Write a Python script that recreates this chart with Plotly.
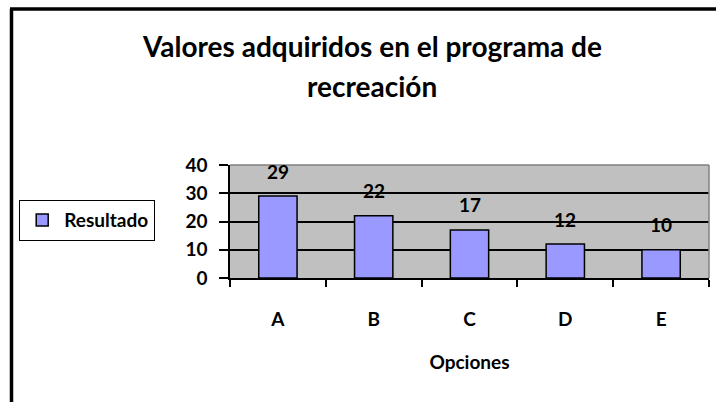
import plotly.graph_objects as go

# data
opciones = ["A", "B", "C", "D", "E"]
resultado = [29, 22, 17, 12, 10]
y_ticks = [0, 10, 20, 30, 40]

W, H = 716, 402
# plot area in pixels
L, R, T, B = 230, 709, 165, 278
pw, ph = R - L, B - T


def px_x(x):
    return (x - L) / pw


def px_y(y):
    return (B - y) / ph


FONT = "Lato"
bold19 = dict(family=FONT, size=19, color="black", weight="bold")

fig = go.Figure()
fig.add_trace(
    go.Bar(
        x=opciones,
        y=resultado,
        name="Resultado",
        marker=dict(color="#9999FF", line=dict(color="black", width=1.5)),
        width=0.4,
    )
)

# data labels above each bar
for cat, val in zip(opciones, resultado):
    fig.add_annotation(
        x=cat, y=val, text=str(val), showarrow=False,
        yanchor="middle", yshift=25, font=bold19,
    )

# title, two lines
title_font = dict(family=FONT, size=28, color="black", weight="bold")
fig.add_annotation(
    xref="paper", yref="paper", x=px_x(372), y=px_y(46),
    text="Valores adquiridos en el programa de", showarrow=False,
    xanchor="center", yanchor="middle", font=title_font,
)
fig.add_annotation(
    xref="paper", yref="paper", x=px_x(372), y=px_y(86),
    text="recreación", showarrow=False,
    xanchor="center", yanchor="middle", font=title_font,
)

# gray top / right edge of the plot area
fig.add_shape(type="line", xref="paper", yref="paper", x0=0, x1=1, y0=1, y1=1,
              line=dict(color="#808080", width=1.5), layer="above")
fig.add_shape(type="line", xref="paper", yref="paper", x0=1, x1=1, y0=0, y1=1,
              line=dict(color="#808080", width=1.5), layer="above")

# outer chart frame (only left and top visible)
fig.add_shape(type="line", xref="paper", yref="paper",
              x0=px_x(11.5), x1=px_x(11.5), y0=px_y(9), y1=px_y(H + 5),
              line=dict(color="black", width=3.5))
fig.add_shape(type="line", xref="paper", yref="paper",
              x0=px_x(10), x1=px_x(W + 5), y0=px_y(9), y1=px_y(9),
              line=dict(color="black", width=3.5))

fig.update_layout(
    width=W, height=H,
    margin=dict(l=L, r=W - R, t=T, b=H - B, pad=0, autoexpand=False),
    paper_bgcolor="white",
    plot_bgcolor="#C0C0C0",
    font=dict(family=FONT, color="black"),
    bargap=0.6,
    showlegend=True,
    legend=dict(
        x=px_x(19), y=px_y(200), xanchor="left", yanchor="top",
        bordercolor="black", borderwidth=1.2, bgcolor="white",
        font=bold19, itemwidth=34,
    ),
)

fig.update_xaxes(
    type="category", automargin=False,
    showline=True, linecolor="black", linewidth=1.5,
    ticks="outside", tickson="boundaries", ticklen=7, tickwidth=1.5, tickcolor="black",
    ticklabelstandoff=23, tickfont=bold19,
    showgrid=False,
    title=dict(text="Opciones", standoff=27, font=bold19),
)
fig.update_yaxes(
    range=[0, 40], tickvals=y_ticks, automargin=False,
    showline=True, linecolor="black", linewidth=1.5,
    ticks="outside", ticklen=9, tickwidth=1.5, tickcolor="black",
    ticklabelstandoff=8, tickfont=bold19,
    showgrid=True, gridcolor="black", gridwidth=1.5,
    zeroline=False,
)

# page body has a default 8px margin; drop it so the chart sits at 0,0
fig.write_html(
    "out.html",
    config={"displayModeBar": False},
    post_script="document.body.style.margin='0';",
)
